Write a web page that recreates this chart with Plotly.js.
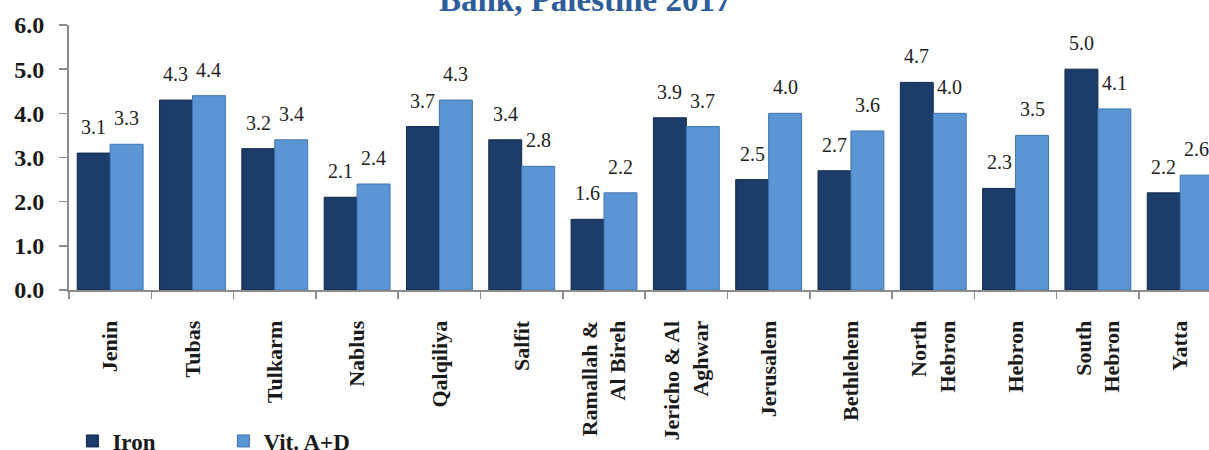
<!DOCTYPE html>
<html>
<head>
<meta charset="utf-8">
<script src="https://cdn.plot.ly/plotly-3.0.1.min.js"></script>
<style>html,body{margin:0;padding:0;background:#fff;}#chart{width:1209px;height:450px;}</style>
</head>
<body>
<div id="chart"></div>
<script>
var categories = ["Jenin","Tubas","Tulkarm","Nablus","Qalqiliya","Salfit","Ramallah &<br>Al Bireh","Jericho & Al<br>Aghwar","Jerusalem","Bethlehem","North<br>Hebron","Hebron","South<br>Hebron","Yatta"];
var ironValues = [3.1,4.3,3.2,2.1,3.7,3.4,1.6,3.9,2.5,2.7,4.7,2.3,5.0,2.2];
var vitValues  = [3.3,4.4,3.4,2.4,4.3,2.8,2.2,3.7,4.0,3.6,4.0,3.5,4.1,2.6];
var yTickValues = [0,1,2,3,4,5,6];
var seriesNames = ["Iron","Vit. A+D"];
var titleText = "Bank, Palestine 2017";

var serif = "'Liberation Serif', 'Times New Roman', Times, serif";
var halfBar = 16.5;

var traces = [
  {type:"bar", name:seriesNames[0], x:categories, y:ironValues,
   marker:{color:"#1c3c69", line:{color:"#12294a", width:1}}, hoverinfo:"y"},
  {type:"bar", name:seriesNames[1], x:categories, y:vitValues,
   marker:{color:"#5b95d3", line:{color:"#3f74b2", width:1}}, hoverinfo:"y"}
];

var annotations = [];
function addLabels(vals, shift){
  vals.forEach(function(v,i){
    annotations.push({xref:"x", yref:"y", x:categories[i], y:v, xshift:shift, yshift:13,
      yanchor:"bottom", xanchor:"center", showarrow:false, text:v.toFixed(1),
      font:{family:serif, size:20, color:"#222"}});
  });
}
addLabels(ironValues, -halfBar);
addLabels(vitValues, halfBar);
annotations.push({xref:"paper", yref:"paper", x:0.453, y:1.096, xanchor:"center", yanchor:"middle",
  showarrow:false, text:"<b>"+titleText+"</b>", font:{family:serif, size:33, color:"#2e5d9b"}});

var layout = {
  width:1209, height:450,
  margin:{l:69, r:0, t:25, b:160, autoexpand:false},
  paper_bgcolor:"#fff", plot_bgcolor:"#fff",
  font:{family:serif},
  barmode:"group", bargap:0.2, bargroupgap:0,
  xaxis:{range:[-0.5,13.35], showline:true, linecolor:"#8c8c8c", linewidth:2,
         ticks:"outside", tickson:"boundaries", ticklen:7, tickcolor:"#8c8c8c", tickwidth:1.5,
         tickangle:-90, ticklabelstandoff:20, showgrid:false, zeroline:false, automargin:false,
         tickfont:{family:serif, size:22, color:"#1a1a1a", weight:"bold"}},
  yaxis:{range:[0,6], tickvals:yTickValues, tickformat:".1f", showline:true, linecolor:"#8c8c8c", linewidth:2,
         ticks:"outside", ticklen:8, tickcolor:"#8c8c8c", tickwidth:1.5, ticklabelstandoff:10,
         showgrid:false, zeroline:false, automargin:false,
         tickfont:{family:serif, size:24, color:"#1a1a1a", weight:"bold"}},
  showlegend:true,
  legend:{orientation:"h", x:0.003, xanchor:"left", yref:"container", y:0.02, yanchor:"middle",
          font:{family:serif, size:23, color:"#1a1a1a", weight:"bold"},
          entrywidth:106, entrywidthmode:"pixels", bgcolor:"rgba(0,0,0,0)"},
  annotations:annotations
};

Plotly.newPlot("chart", traces, layout, {displayModeBar:false, staticPlot:true});
</script>
</body>
</html>
